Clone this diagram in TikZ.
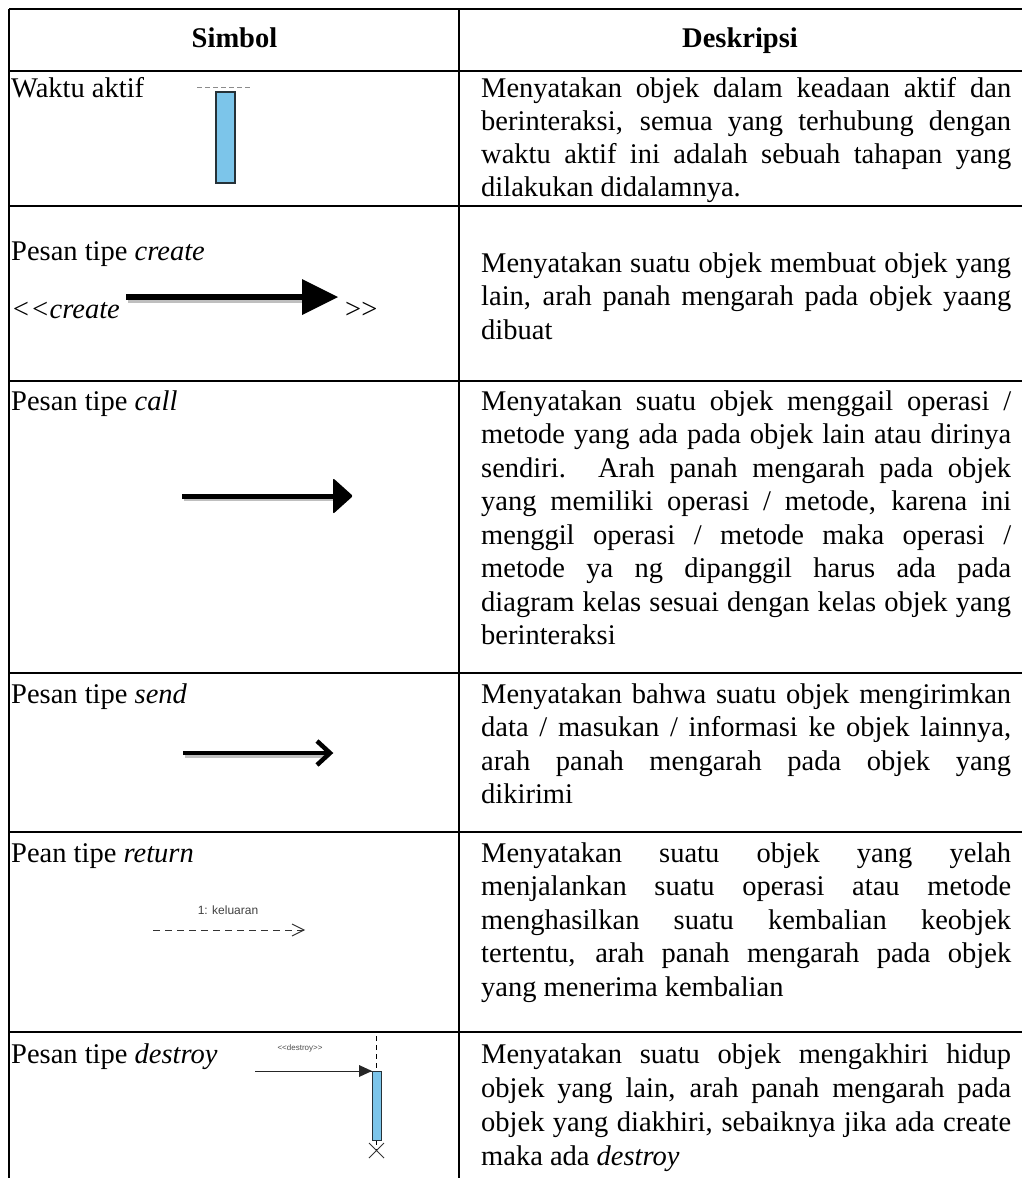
\documentclass[tikz,border=0pt]{standalone}
\usepackage{fontspec}
\setmainfont{Liberation Serif}
\newfontfamily\uisans{Liberation Sans}
\usetikzlibrary{calc}
\definecolor{barblue}{RGB}{124,197,234}
\definecolor{barline}{RGB}{38,50,56}
\newcommand\jline[1]{\makebox[530pt][s]{#1}}
\hbadness=10000
\hfuzz=20pt
\begin{document}
\begin{tikzpicture}[x=1pt,y=-1pt,
  body/.style={anchor=base west, inner sep=0pt, font=\fontsize{28.5}{33.5}\selectfont},
  head/.style={anchor=base, inner sep=0pt, font=\fontsize{28.5}{33.5}\selectfont\bfseries},
  rule/.style={line width=1.2pt},
  small/.style={anchor=base, inner sep=0pt, text=black!75, font=\uisans\fontsize{12}{14}\selectfont},
  tiny/.style={anchor=base, inner sep=0pt, text=black!70, font=\uisans\fontsize{8}{10}\selectfont},
  actbar/.style={fill=barblue, draw=barline, line width=1.2pt},
  shadow/.style={draw=black!25, line width=5pt}]
\useasboundingbox (0,0) rectangle (1022,1178);

% table rules
\draw[rule] (9,9) -- (1022,9);
\foreach \r in {71,206,381,673,832,1032}
  \draw[rule] (9,\r) -- (1022,\r);
\draw[rule] (9,9) -- (9,1178);
\draw[rule] (459,9) -- (459,1178);

% header
\node[head] (hsym) at (234.5,47) {Simbol};
\node[head] (hdesc) at (740,47) {Deskripsi};

% row 1: activation
\node[body] (s1) at (11,97) {Waktu aktif};
\draw[black!45, dash pattern=on 5pt off 3pt, line width=1pt] (197,87) -- (252,87);
\draw[actbar] (216,92) rectangle (235,183);
\node[body] (d11) at (481,97)  {\jline{Menyatakan objek dalam keadaan aktif dan}};
\node[body] (d12) at (481,130) {\jline{berinteraksi, semua yang terhubung dengan}};
\node[body] (d13) at (481,163) {\jline{waktu aktif ini adalah sebuah tahapan yang}};
\node[body] (d14) at (481,196) {dilakukan didalamnya.};

% row 2: create message
\node[body] (s2) at (11,260) {Pesan tipe \textit{create}};
\node[body] (s2a) at (11,318) {\textit{<{}<create}};
\node[body] (s2b) at (345,318) {>{}>};
\coordinate (c2s) at (126,297);
\coordinate (c2e) at (304,297);
\draw[shadow, line width=6pt] ($(c2s)+(1.5,2.5)$) -- ($(c2e)+(0,2.5)$);
\draw[line width=6.5pt] (c2s) -- (c2e);
\fill (302,279) -- (338,297) -- (302,315) -- cycle;
\node[body] (d21) at (481,272)   {\jline{Menyatakan suatu objek membuat objek yang}};
\node[body] (d22) at (481,305.5) {\jline{lain, arah panah mengarah pada objek yaang}};
\node[body] (d23) at (481,339)   {dibuat};

% row 3: call message
\node[body] (s3) at (11,410) {Pesan tipe \textit{call}};
\coordinate (c3s) at (182,496);
\coordinate (c3e) at (336,496);
\draw[shadow] ($(c3s)+(1.5,2.5)$) -- ($(c3e)+(0,2.5)$);
\draw[line width=5pt] (c3s) -- (c3e);
\fill[rounded corners=2pt] (333,478) -- (353,496) -- (333,514) -- cycle;
\node[body] (d31) at (481,410)   {\jline{Menyatakan suatu objek menggail operasi /}};
\node[body] (d32) at (481,443.5) {\jline{metode yang ada pada objek lain atau dirinya}};
\node[body] (d33) at (481,477)   {\jline{sendiri. Arah panah mengarah pada objek}};
\node[body] (d34) at (481,510.5) {\jline{yang memiliki operasi / metode, karena ini}};
\node[body] (d35) at (481,544)   {\jline{menggil operasi / metode maka operasi /}};
\node[body] (d36) at (481,577.5) {\jline{metode ya ng dipanggil harus ada pada}};
\node[body] (d37) at (481,611)   {\jline{diagram kelas sesuai dengan kelas objek yang}};
\node[body] (d38) at (481,644.5) {berinteraksi};

% row 4: send message
\node[body] (s4) at (11,703) {Pesan tipe \textit{send}};
\coordinate (c4s) at (183,753);
\coordinate (c4e) at (329,753);
\draw[shadow, line width=4.5pt] ($(c4s)+(1.5,2.5)$) -- ($(c4e)+(0,2.5)$);
\draw[line width=4.5pt] (c4s) -- (c4e);
\draw[line width=4.5pt, line join=miter] (317,741) -- (330,753) -- (317,765);
\node[body] (d41) at (481,703)   {\jline{Menyatakan bahwa suatu objek mengirimkan}};
\node[body] (d42) at (481,736.5) {\jline{data / masukan / informasi ke objek lainnya,}};
\node[body] (d43) at (481,770)   {\jline{arah panah mengarah pada objek yang}};
\node[body] (d44) at (481,803.5) {dikirimi};

% row 5: return message
\node[body] (s5) at (11,862) {Pean tipe \textit{return}};
\node[small] (lbl5) at (228,914) {1: keluaran};
\coordinate (c5s) at (153,930);
\coordinate (c5e) at (304,930);
\draw[line width=1pt, black!80, dash pattern=on 7pt off 5pt] (c5s) -- (c5e);
\draw[line width=1pt, black!80] (292,924) -- (304,930) -- (292,936);
\node[body] (d51) at (481,862)   {\jline{Menyatakan suatu objek yang yelah}};
\node[body] (d52) at (481,895.5) {\jline{menjalankan suatu operasi atau metode}};
\node[body] (d53) at (481,929)   {\jline{menghasilkan suatu kembalian keobjek}};
\node[body] (d54) at (481,962.5) {\jline{tertentu, arah panah mengarah pada objek}};
\node[body] (d55) at (481,996)   {yang menerima kembalian};

% row 6: destroy message
\node[body] (s6) at (11,1063) {Pesan tipe \textit{destroy}};
\node[tiny] (lbl6) at (300,1050) {<{}<destroy>{}>};
\coordinate (c6s) at (255,1071);
\coordinate (c6e) at (372,1071);
\draw[line width=0.9pt, black!85] (c6s) -- (c6e);
\fill[black!85] (359,1065) -- (372,1071) -- (359,1077) -- cycle;
\draw[line width=0.9pt, dash pattern=on 5pt off 4pt] (376.5,1036) -- (376.5,1071);
\draw[line width=0.9pt, dash pattern=on 5pt off 4pt] (376.5,1140) -- (376.5,1150);
\draw[actbar, line width=1pt] (372,1071) rectangle (381,1140);
\draw[line width=0.9pt, black!80] (369,1143) -- (384,1158) (369,1158) -- (384,1143);
\node[body] (d61) at (481,1063) {\jline{Menyatakan suatu objek mengakhiri hidup}};
\node[body] (d62) at (481,1097) {\jline{objek yang lain, arah panah mengarah pada}};
\node[body] (d63) at (481,1131) {\jline{objek yang diakhiri, sebaiknya jika ada create}};
\node[body] (d64) at (481,1165) {maka ada \textit{destroy}};
\end{tikzpicture}
\end{document}
